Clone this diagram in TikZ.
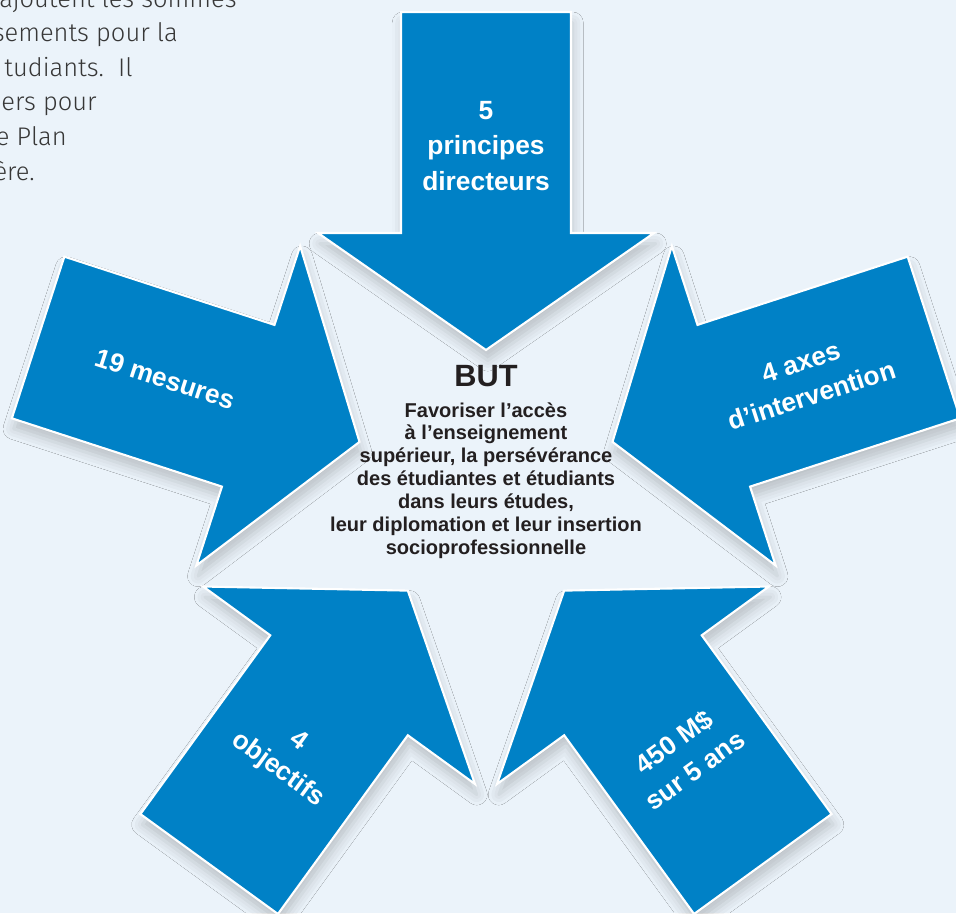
\documentclass[tikz,border=0pt]{standalone}
\usepackage{fontspec}
\setmainfont{Liberation Sans}
\newfontfamily\paraFont{Fira Sans Light}
\usepackage{tikz}
\usetikzlibrary{calc,positioning,shadows.blur}

\definecolor{bgblue}{RGB}{235,243,250}
\definecolor{arrowblue}{RGB}{0,129,198}
\definecolor{darktext}{RGB}{35,31,32}
\definecolor{paratext}{RGB}{55,55,55}

\tikzset{
  bigarrow/.style={fill=arrowblue, draw=white, line width=1.2pt, line join=miter,
    blur shadow={shadow xshift=1pt, shadow yshift=-6pt, shadow blur radius=6pt, shadow opacity=20}},
  arrowlabel/.style={text=white, font=\bfseries\fontsize{15}{20}\selectfont, align=center, inner sep=0pt},
  goaltitle/.style={text=darktext, font=\bfseries\fontsize{17.5}{20}\selectfont, inner sep=0pt},
  goaltext/.style={text=darktext, font=\bfseries\fontsize{11.4}{13}\selectfont, align=center, inner sep=0pt},
  paraline/.style={text=paratext, font=\paraFont\fontsize{14.5}{17}\selectfont, inner sep=0pt, anchor=base east}
}

\newcommand{\drawarrow}[1]{
  % arrow pointing at the centre, sitting at angle #1
  \draw[bigarrow] ($(ctr)+(#1:133)$) -- ($(ctr)+(#1+33.9:301.2)$) -- ($(ctr)+(#1+18.78:264.1)$)
    -- ($(ctr)+(#1+10.23:478.6)$) -- ($(ctr)+(#1-10.23:478.6)$) -- ($(ctr)+(#1-18.78:264.1)$)
    -- ($(ctr)+(#1-33.9:301.2)$) -- cycle;
}

\begin{document}
\begin{tikzpicture}[x=0.02cm, y=0.02cm]
  \useasboundingbox (0,0) rectangle (956,-913);
  \fill[bgblue] (0,0) rectangle (956,-913);
  \clip (0,0) rectangle (956,-913);
  \coordinate (ctr) at (486,-483);

  % cut text at the top left
  \foreach \txt/\xr [count=\i] in {ajoutent les sommes/237, sements pour la/178, tudiants.\ \ Il/133,
      ers pour/97, e Plan/67, ère./35}
    \node[paraline] (para\i) at (\xr,{-7-34.6*(\i-1)}) {\txt};

  % five arrows
  \foreach \ang in {90,162,234,306,18}
    {\drawarrow{\ang}}

  % labels
  \foreach \ang/\rot/\txt [count=\i] in {90/0/{5\\principes\\directeurs}, 162/-18/{19 mesures},
      234/-36/{4\\objectifs}, 306/36/{450 M\$\\sur 5 ans}, 18/18/{4 axes\\d’intervention}}
    \node[arrowlabel, rotate=\rot] (lab\i) at ($(ctr)+(\ang:337)$) {\txt};

  % goal in the middle
  \node[goaltitle] (but) at (486,-376) {BUT};
  \node[goaltext, below=0.3cm of but] (butText) {Favoriser l’accès\\à l’enseignement\\supérieur, la persévérance\\des étudiantes et étudiants\\dans leurs études,\\leur diplomation et leur insertion\\socioprofessionnelle};
\end{tikzpicture}
\end{document}
